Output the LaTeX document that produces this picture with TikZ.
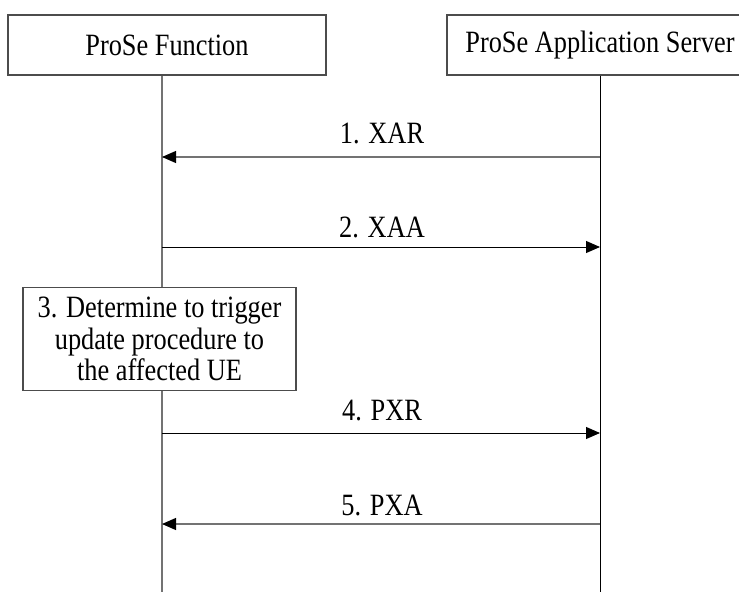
\documentclass[tikz,border=0pt]{standalone}
\usepackage{fontspec}
\setmainfont{Liberation Serif}[FakeStretch=0.85]
\usetikzlibrary{arrows.meta}
\begin{document}
\begin{tikzpicture}[x=1pt,y=-1pt,
  box/.style={draw=black!70, line width=1.1pt, fill=white, inner sep=0pt, align=center, font=\fontsize{31}{31.5}\selectfont},
  lifeleft/.style={draw=black!55, line width=1.1pt},
  liferight/.style={draw=black, line width=1pt},
  msgr/.style={draw=black, line width=1pt, -{Triangle[length=14pt,width=12pt]}},
  msgl/.style={draw=black!55, line width=1.1pt, -{Triangle[length=14pt,width=12pt,color=black]}},
  lbl/.style={font=\fontsize{31}{31.5}\selectfont, anchor=base, inner sep=0pt}]
\useasboundingbox (0,0) rectangle (739,592);
\clip (0,0) rectangle (739,592);
\fill[white] (0,0) rectangle (739,592);
% participants
\node[box, minimum width=318pt, minimum height=60pt] (pf) at (167,45) {ProSe Function};
\node[box, minimum width=306pt, minimum height=60pt] (as) at (600,45) {ProSe Application Server};
% step 3 box
\node[box, minimum width=273pt, minimum height=103pt] (det) at (159.5,339)
  {3. Determine to trigger\\update procedure to\\the affected UE};
% lifeline coordinates
\coordinate (lx) at (162,0);
\coordinate (rx) at (600,0);
\coordinate (pfend) at (162,592);
\coordinate (asend) at (600,592);
\draw[lifeleft] (pf.south -| lx) -- (det.north -| lx);
\draw[lifeleft] (det.south -| lx) -- (pfend);
\draw[liferight] (as.south) -- (asend);
% message end points
\coordinate (m1l) at (162,157); \coordinate (m1r) at (600,157);
\coordinate (m2l) at (162,247); \coordinate (m2r) at (600,247);
\coordinate (m4l) at (162,433); \coordinate (m4r) at (600,433);
\coordinate (m5l) at (162,524); \coordinate (m5r) at (600,524);
\draw[msgl] (m1r) -- (m1l);
\draw[msgr] (m2l) -- (m2r);
\draw[msgr] (m4l) -- (m4r);
\draw[msgl] (m5r) -- (m5l);
% labels
\node[lbl] (t1) at (382,143) {1. XAR};
\node[lbl] (t2) at (382,237) {2. XAA};
\node[lbl] (t4) at (382,420) {4. PXR};
\node[lbl] (t5) at (382,515) {5. PXA};
\end{tikzpicture}
\end{document}
